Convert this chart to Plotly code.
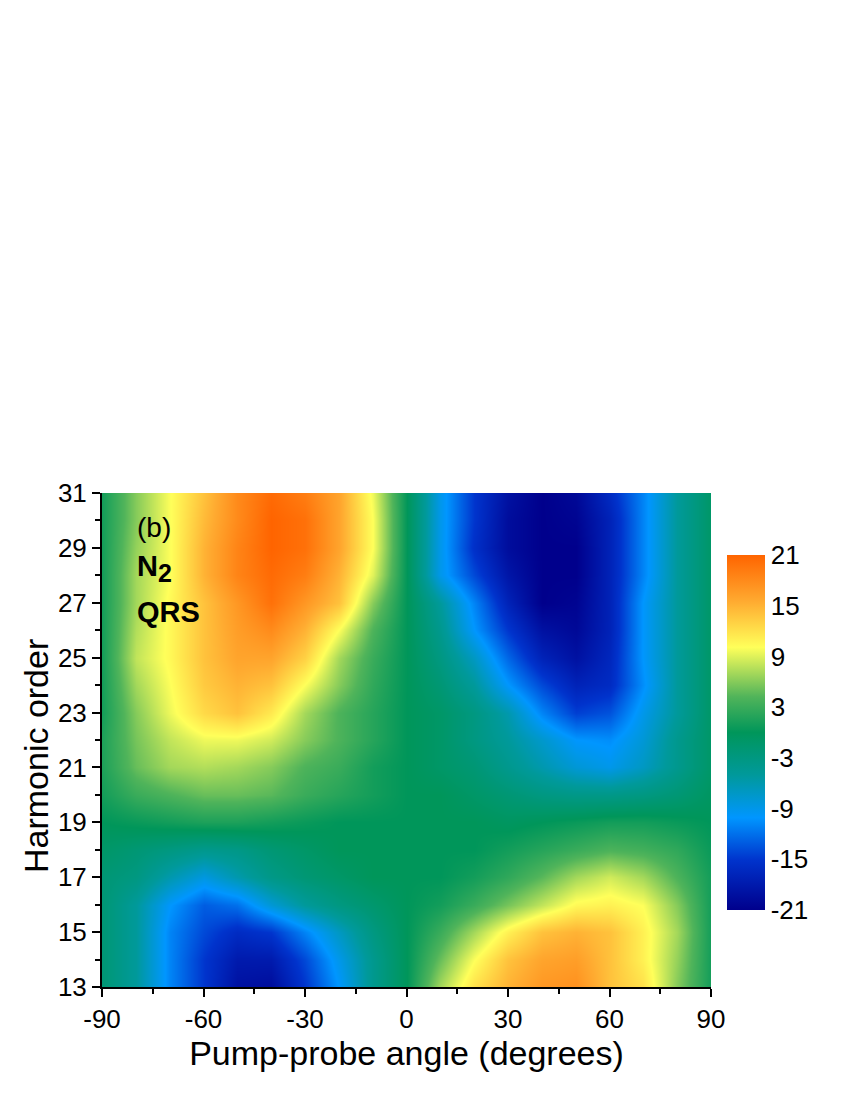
import plotly.graph_objects as go

# pump-probe angle (deg) and harmonic order sampled from the map
angles = [-90, -80, -70, -60, -50, -40, -30, -20, -10, 0, 10, 20, 30, 40, 50, 60, 70, 80, 90]
orders = [13, 14, 15, 16, 17, 18, 19, 20, 21, 22, 23, 24, 25, 26, 27, 28, 29, 30, 31]

# values, one row per harmonic order (bottom -> top)
row_h13 = [-2, -5, -11, -15, -19, -19.5, -15, -10, -4, 0, 7, 12, 15, 17, 17.5, 14, 12, 6, 1]
row_h14 = [-2, -5, -11, -15, -18, -18, -14, -9, -4, 0, 5, 10, 14, 16, 16.5, 14, 11, 6.5, 1]
row_h15 = [-2, -5, -11, -14, -16, -15, -11, -7, -3, 0, 3, 7, 11, 14, 15, 14, 11, 7, 1]
row_h16 = [-2, -5, -10, -13, -12, -8, -5, -3, -1.5, 0, 1, 3, 5.5, 8, 10.5, 11, 10, 6, 1]
row_h17 = [-2, -3, -6, -8.5, -6, -3.5, -2, -1, 0, 0, 0, 1, 2.5, 4.5, 7, 8.5, 7, 4, 1]
row_h18 = [-1, -2, -3, -4, -3.5, -2, -1, 0, 0, 0, 0, 0, 1, 2, 3, 4, 3.5, 2.5, 0.5]
row_h19 = [0, 0.5, 1, 1.5, 1.5, 1, 0.5, 0, 0, 0, 0, 0, -0.5, 0, 0.5, 1, 1, 0.5, 0]
row_h20 = [1, 3, 4, 5, 5, 4.5, 3, 2, 1, 0, 0, -1, -2, -3, -3.5, -3.5, -3, -2, -0.5]
row_h21 = [1.5, 5, 7, 7.5, 7, 6, 4, 3, 1, 0, -1, -2, -4, -6, -8, -9, -7, -4, -1]
row_h22 = [1.5, 5.5, 8, 9.5, 9.5, 8.5, 6, 4, 2, 0, -1, -3, -5, -7.5, -10, -10.5, -8, -4, -1]
row_h23 = [1, 6, 9.5, 12.5, 14, 11.5, 7, 4, 2, 0, -1, -3, -6, -11, -14.5, -13.5, -9, -5, -1]
row_h24 = [1, 7, 10, 13.5, 15, 14, 10, 6, 2.5, 0, -2, -5, -10, -14, -17, -16, -10.5, -5, -1]
row_h25 = [1, 8, 10.5, 14, 16, 16, 13, 7, 3, 0, -3, -7, -12.5, -17, -19, -16.5, -10, -5, -1]
row_h26 = [1, 7.5, 10.5, 14, 16.5, 18, 15, 10, 4, 0, -4, -10, -15, -19, -20, -17, -10, -5, -1]
row_h27 = [1, 7, 10.5, 14, 17, 20, 17, 14, 6, 0, -5, -11, -17, -21, -20.5, -17, -10, -5, -1]
row_h28 = [1, 7, 10, 15, 18.5, 20.5, 19, 15, 9, 0, -9, -14, -18.5, -21, -21, -17, -11, -5, -1]
row_h29 = [1, 6.5, 10, 15, 18.5, 21, 20, 16, 10, 0, -9, -15.5, -19.5, -21, -21, -17, -11, -5, -1]
row_h30 = [1, 6, 10, 14.5, 18, 21, 20, 16, 10, 0, -9, -15, -19.5, -21, -20.5, -17, -11, -5, -1]
row_h31 = [1, 6, 10, 14, 18, 20.5, 19, 16, 9.5, 0, -9, -15, -19, -21, -20, -16, -11, -5, -1]

z = [row_h13, row_h14, row_h15, row_h16, row_h17, row_h18, row_h19,
     row_h20, row_h21, row_h22, row_h23, row_h24, row_h25, row_h26,
     row_h27, row_h28, row_h29, row_h30, row_h31]

x_ticks = [-90, -60, -30, 0, 30, 60, 90]
y_ticks = [13, 15, 17, 19, 21, 23, 25, 27, 29, 31]
cbar_ticks = [-21, -15, -9, -3, 3, 9, 15, 21]

colorscale = [
    [0.0, "#00008c"],
    [0.14, "#0033cc"],
    [0.26, "#0096ff"],
    [0.38, "#00999b"],
    [0.5, "#00965a"],
    [0.6, "#50b45a"],
    [0.74, "#ffff5a"],
    [0.87, "#ffaa30"],
    [1.0, "#ff6400"],
]

font_main = "Arial, Liberation Sans"

fig = go.Figure()

fig.add_trace(
    go.Heatmap(
        x=angles,
        y=orders,
        z=z,
        zmin=-21,
        zmax=21,
        zsmooth="best",
        colorscale=colorscale,
        colorbar=dict(
            x=1.026,
            xanchor="left",
            xpad=0,
            y=0.515,
            yanchor="middle",
            ypad=0,
            len=0.719,
            lenmode="fraction",
            thickness=38,
            outlinewidth=0,
            tickvals=cbar_ticks,
            ticktext=[str(v) for v in cbar_ticks],
            ticks="",
            tickfont=dict(family=font_main, size=26, color="black"),
        ),
    )
)

fig.add_annotation(x=0.054, y=0.931, xref="paper", yref="paper", text="(b)",
                   showarrow=False, xanchor="left", yanchor="middle",
                   font=dict(family=font_main, size=28, color="black"))
fig.add_annotation(x=0.054, y=0.848, xref="paper", yref="paper",
                   text='<b>N<sub><span style="font-size:25px">2</span></sub></b>',
                   showarrow=False, xanchor="left", yanchor="middle",
                   font=dict(family=font_main, size=29, color="black"))
fig.add_annotation(x=0.054, y=0.759, xref="paper", yref="paper", text="<b>QRS</b>",
                   showarrow=False, xanchor="left", yanchor="middle",
                   font=dict(family=font_main, size=29, color="black"))
# y-axis title, placed a little below the axis centre as in the original
fig.add_annotation(x=-0.108, y=0.468, xref="paper", yref="paper", text="Harmonic order",
                   showarrow=False, xanchor="center", yanchor="middle", textangle=-90,
                   font=dict(family=font_main, size=34, color="black"))

fig.update_layout(
    width=850,
    height=1100,
    margin=dict(l=94, r=147, t=485, b=121),
    paper_bgcolor="white",
    plot_bgcolor="white",
    font=dict(family=font_main, color="black"),
    xaxis=dict(
        range=[-90, 90],
        tickvals=x_ticks,
        ticktext=[str(v) for v in x_ticks],
        ticks="outside",
        ticklen=8,
        tickwidth=2,
        tickcolor="black",
        minor=dict(tickvals=[-75, -45, -15, 15, 45, 75], ticks="outside",
                   ticklen=5, tickwidth=2, tickcolor="black"),
        showline=True,
        linewidth=2,
        linecolor="black",
        showgrid=False,
        zeroline=False,
        tickfont=dict(size=26),
        title=dict(text="Pump-probe angle (degrees)", font=dict(size=34), standoff=8),
    ),
    yaxis=dict(
        range=[13, 31],
        tickvals=y_ticks,
        ticktext=[str(v) for v in y_ticks],
        ticks="outside",
        ticklen=8,
        tickwidth=2,
        tickcolor="black",
        minor=dict(tickvals=[14, 16, 18, 20, 22, 24, 26, 28, 30], ticks="outside",
                   ticklen=5, tickwidth=2, tickcolor="black"),
        showline=True,
        linewidth=2,
        linecolor="black",
        showgrid=False,
        zeroline=False,
        tickfont=dict(size=26),
    ),
)

fig.write_html("out.html")
